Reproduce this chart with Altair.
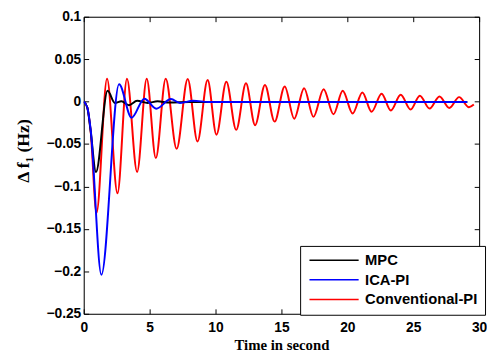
import altair as alt
import pandas as pd

series_names = ["MPC", "ICA-PI", "Conventional-PI"]
series_colors = ["#000000", "#0000ff", "#ff0000"]

mpc_t = [0, 0.27, 0.52, 0.93, 1.81, 2.36, 2.86, 3.43, 4.05, 4.85, 5.6, 6.5, 8.0, 29.1]
mpc_v = [0, -0.007, -0.034, -0.083, 0.0127, -0.0016, 0.0003, -0.0043, 0.001, -0.0016, 0.0003, -0.001, -0.0005, -0.0005]

ica_t = [0, 0.27, 0.52, 1.34, 2.68, 3.63, 4.6, 5.5, 6.62, 7.3, 8.3, 9.5, 29.1]
ica_v = [0, -0.007, -0.032, -0.204, 0.0204, -0.019, 0.0035, -0.0083, 0.003, -0.0016, 0.001, -0.0004, -0.0004]

conv_t = [0, 0.27, 0.52, 0.97, 1.77, 2.56, 3.28, 4.05, 4.78, 5.47, 6.22, 7.05, 7.89,
          8.63, 9.4, 10.07, 10.82, 11.57, 12.31, 13.0, 13.75, 14.48, 15.25, 15.97,
          16.72, 17.43, 18.2, 18.95, 19.65, 20.4, 21.14, 21.84, 22.6, 23.3, 24.05,
          24.8, 25.5, 26.24, 26.99, 27.74, 28.48, 29.23, 29.6]
conv_v = [0, -0.007, -0.034, -0.131, 0.027, -0.108, 0.027, -0.083, 0.027, -0.0665, 0.027,
          -0.0556, 0.0267, -0.047, 0.0255, -0.039, 0.0235, -0.0333, 0.0216, -0.0278,
          0.0197, -0.0236, 0.0177, -0.0201, 0.0158, -0.018, 0.0146, -0.015, 0.0127,
          -0.0139, 0.0108, -0.012, 0.0093, -0.0104, 0.0081, -0.0093, 0.007, -0.0081,
          0.0061, -0.0074, 0.0053, -0.0066, -0.0035]

x_ticks = [0, 5, 10, 15, 20, 25, 30]
y_ticks = [-0.25, -0.2, -0.15, -0.1, -0.05, 0, 0.05, 0.1]

def frame(ts, vs, name):
    return pd.DataFrame({"t": ts, "v": vs, "series": name})

df_mpc = frame(mpc_t, mpc_v, "MPC")
df_ica = frame(ica_t, ica_v, "ICA-PI")
df_conv = frame(conv_t, conv_v, "Conventional-PI")

xscale = alt.Scale(domain=[0, 30], nice=False, zero=False)
yscale = alt.Scale(domain=[-0.25, 0.1], nice=False, zero=False)
cscale = alt.Scale(domain=series_names, range=series_colors)

TICK_IN = {"expr": "-5"}

xaxis = alt.Axis(values=x_ticks, title="Time in second", grid=False, tickSize=TICK_IN,
                 labelPadding=12, titlePadding=3, labelFlush=False,
                 labelFont="Liberation Sans", labelFontWeight="bold", labelFontSize=14,
                 titleFont="Liberation Serif", titleFontWeight="bold", titleFontSize=15,
                 domainColor="black", tickColor="black", labelColor="black", titleColor="black")
yaxis = alt.Axis(values=y_ticks, title="Δ f₁  (Hz)", grid=False, tickSize=TICK_IN,
                 labelPadding=8, titlePadding=14, labelFlush=False, format="~g",
                 labelFont="Liberation Sans", labelFontWeight="bold", labelFontSize=14,
                 titleFont="Liberation Serif", titleFontWeight="bold", titleFontSize=18,
                 titleY=136,
                 domainColor="black", tickColor="black", labelColor="black", titleColor="black")

color = alt.Color("series:N", scale=cscale, sort=series_names,
                  legend=alt.Legend(title=None, orient="none", legendX=220, legendY=233,
                                    symbolType="M-1,0H9", symbolSize=100,
                                    symbolStrokeWidth=1.5, symbolOpacity=1,
                                    labelFont="Liberation Sans", labelFontWeight="bold",
                                    labelFontSize=15, labelLimit=0, labelOffset=44,
                                    strokeColor="black", fillColor="white",
                                    padding=7, rowPadding=4, cornerRadius=0))

def line(df):
    return alt.Chart(df).mark_line(interpolate="monotone", strokeWidth=2, clip=True).encode(
        x=alt.X("t:Q", scale=xscale, axis=xaxis),
        y=alt.Y("v:Q", scale=yscale, axis=yaxis),
        color=color,
    )

lines = alt.layer(line(df_conv), line(df_mpc), line(df_ica))

top_right = alt.Chart(df_conv).mark_line(opacity=0).encode(
    x=alt.X("t:Q", scale=xscale, axis=alt.Axis(orient="top", values=x_ticks, labels=False,
                                               title=None, grid=False, tickSize=TICK_IN,
                                               domainColor="black", tickColor="black")),
    y=alt.Y("v:Q", scale=yscale, axis=alt.Axis(orient="right", values=y_ticks, labels=False,
                                               title=None, grid=False, tickSize=TICK_IN,
                                               domainColor="black", tickColor="black")),
)

chart = alt.layer(lines, top_right).resolve_axis(
    x="independent", y="independent"
).properties(
    width=402, height=302,
    autosize=alt.AutoSizeParams(type="none"),
    padding={"left": 77, "top": 6, "right": 8, "bottom": 38},
).configure_view(stroke="black", strokeWidth=1).configure_legend(
    strokeWidth=1.5
).configure(background="white")

chart.save("out.html", embed_options={"renderer": "svg", "actions": False})
